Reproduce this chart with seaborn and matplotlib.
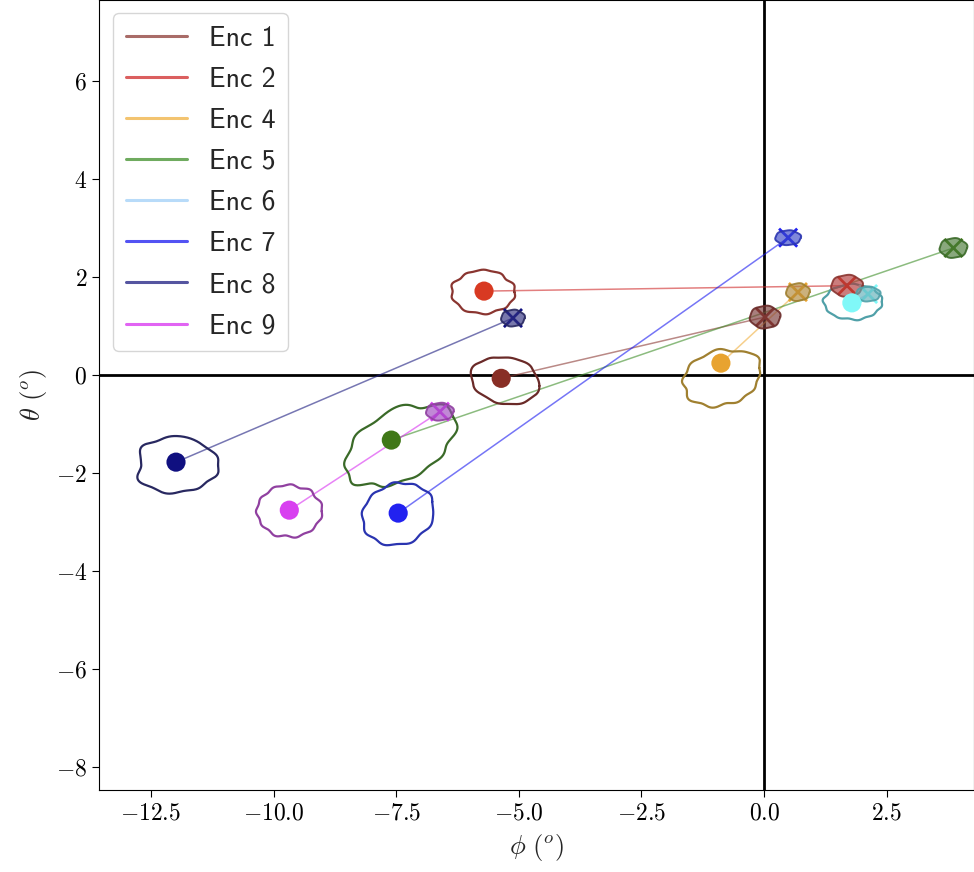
import numpy as np
import pandas as pd
import matplotlib
matplotlib.use("Agg")
import matplotlib.pyplot as plt
import seaborn as sns
from matplotlib.lines import Line2D
from matplotlib.ticker import FuncFormatter, MultipleLocator

# ---------------- data ----------------
labels = ["Enc 1", "Enc 2", "Enc 4", "Enc 5", "Enc 6", "Enc 7", "Enc 8", "Enc 9"]
src_phi = [-5.36, -5.71, -0.88, -7.60, 1.79, -7.46, -11.99, -9.68]
src_theta = [-0.07, 1.71, 0.24, -1.33, 1.47, -2.82, -1.78, -2.76]
dst_phi = [0.02, 1.69, 0.69, 3.86, 2.12, 0.49, -5.12, -6.61]
dst_theta = [1.18, 1.82, 1.69, 2.59, 1.65, 2.80, 1.16, -0.75]

line_colors = ["#8c3b36", "#d02a2a", "#f0b040", "#3f8f2a", "#a0d0f8", "#1a1af0", "#1c1c80", "#d830f0"]
dot_colors = ["#882e25", "#d83a22", "#e8a330", "#407818", "#80f8f8", "#2222f0", "#101080", "#d840f0"]
cont_colors = ["#6a2a28", "#8a3530", "#a08030", "#3a6a28", "#50a0a8", "#2a34b0", "#282860", "#9040a0"]
blob_fill = ["#7a3a38", "#b03838", "#b08838", "#4a7a38", "#60b0b8", "#3a48c8", "#303080", "#a048c0"]

# big contour: centre, semi-axes, rotation, radial multipliers (24 angles)
big_cx = [-5.28, -5.73, -0.86, -7.42, 1.81, -7.46, -12.01, -9.68]
big_cy = [-0.10, 1.69, -0.06, -1.43, 1.49, -2.84, -1.84, -2.78]
big_a = [0.71, 0.64, 0.79, 1.20, 0.59, 0.74, 0.86, 0.66]
big_b = [0.46, 0.44, 0.56, 0.70, 0.36, 0.62, 0.57, 0.53]
big_rot = [-10, 0, 15, 28, 0, 20, 0, 0]
big_r = [
    [1.00, 0.97, 0.95, 1.00, 1.04, 1.01, 1.00, 0.96, 0.99, 0.97, 1.00, 1.03, 1.00, 0.96, 1.00, 1.03, 1.00, 1.05, 1.08, 1.05, 1.08, 1.04, 1.02, 1.03],
    [1.00, 1.04, 0.98, 0.96, 1.03, 1.00, 1.04, 0.99, 1.02, 0.96, 1.01, 1.04, 0.97, 1.03, 0.98, 1.00, 1.04, 0.97, 1.02, 1.00, 0.96, 1.03, 0.99, 1.04],
    [1.00, 1.10, 1.08, 1.02, 0.94, 1.00, 1.04, 0.97, 1.01, 1.04, 0.99, 1.05, 0.97, 1.02, 1.06, 0.98, 1.04, 1.00, 0.95, 1.03, 0.97, 1.02, 0.96, 1.00],
    [1.02, 1.06, 1.04, 0.90, 0.98, 1.06, 1.00, 0.96, 1.04, 0.99, 0.97, 1.03, 1.00, 1.07, 1.02, 0.96, 1.04, 0.98, 1.03, 0.97, 1.02, 0.95, 1.00, 1.05],
    [1.00, 1.04, 0.98, 1.02, 1.00, 0.97, 1.03, 1.00, 0.98, 1.03, 0.97, 1.01, 1.03, 0.97, 1.02, 0.99, 1.03, 0.97, 1.00, 1.04, 0.98, 1.02, 0.97, 1.03],
    [1.00, 1.05, 0.99, 1.02, 0.97, 1.03, 1.00, 0.97, 1.02, 0.98, 1.03, 0.99, 1.00, 1.04, 0.97, 1.02, 1.00, 0.97, 1.03, 0.99, 0.96, 1.03, 1.00, 0.98],
    [1.02, 1.05, 1.00, 0.97, 1.00, 1.03, 1.04, 1.00, 0.96, 1.03, 0.96, 0.84, 0.80, 0.88, 1.02, 1.00, 0.97, 1.03, 1.00, 0.95, 1.00, 0.97, 1.00, 1.06],
    [1.00, 1.04, 0.97, 1.02, 1.00, 0.96, 1.03, 0.99, 1.03, 0.96, 1.02, 0.98, 1.03, 0.97, 1.01, 0.97, 1.03, 0.99, 0.97, 1.03, 0.98, 1.02, 0.97, 1.03],
]
# small filled blob: semi-axes and radial multipliers
sm_a = [0.31, 0.32, 0.24, 0.28, 0.25, 0.26, 0.24, 0.28]
sm_b = [0.23, 0.22, 0.18, 0.20, 0.15, 0.15, 0.17, 0.18]
sm_r = [1.00, 1.04, 0.97, 1.02, 1.00, 0.97, 1.03, 0.98, 1.00, 1.02, 0.97, 1.03, 1.00, 0.98, 1.03, 0.97]


def blob(cx, cy, a, b, rot, mult, n=300):
    m = np.asarray(mult, dtype=float)
    spec = np.fft.rfft(m)
    k = len(m)
    full = np.zeros(n // 2 + 1, dtype=complex)
    full[: len(spec)] = spec
    if k % 2 == 0:
        full[len(spec) - 1] *= 0.5
    r = np.fft.irfft(full, n) * n / k
    t = np.linspace(0, 2 * np.pi, n, endpoint=False)
    x = a * r * np.cos(t)
    y = b * r * np.sin(t)
    th = np.deg2rad(rot)
    xr = cx + x * np.cos(th) - y * np.sin(th)
    yr = cy + x * np.sin(th) + y * np.cos(th)
    return np.append(xr, xr[0]), np.append(yr, yr[0])


# ---------------- style ----------------
sns.set_style("ticks")
plt.rcParams.update({
    "font.family": ["DejaVu Serif"],
    "mathtext.fontset": "cm",
    "axes.edgecolor": "black",
    "xtick.color": "black",
    "ytick.color": "black",
    "xtick.direction": "out",
    "ytick.direction": "out",
    "xtick.major.size": 5,
    "ytick.major.size": 5,
})

fig = plt.figure(figsize=(9.74, 8.72), dpi=100)
ax = fig.add_axes([99 / 974, 82 / 872, 1 - 99 / 974, 1 - 82 / 872])

ax.axhline(0, color="black", lw=2, zorder=1)
ax.axvline(0, color="black", lw=2, zorder=1)

# connecting lines
for i in range(len(labels)):
    seg = pd.DataFrame({"phi": [src_phi[i], dst_phi[i]], "theta": [src_theta[i], dst_theta[i]]})
    sns.lineplot(data=seg, x="phi", y="theta", sort=False, color=line_colors[i], alpha=0.6,
                 lw=1.1, ax=ax, zorder=2)

# contours
for i in range(len(labels)):
    xs, ys = blob(big_cx[i], big_cy[i], big_a[i], big_b[i], big_rot[i], big_r[i])
    ax.plot(xs, ys, color=cont_colors[i], lw=1.6, zorder=3)

df_dst = pd.DataFrame({"phi": dst_phi, "theta": dst_theta, "enc": labels})
sns.scatterplot(data=df_dst, x="phi", y="theta", hue="enc", palette=dot_colors, marker="x",
                s=170, linewidth=2.0, legend=False, ax=ax, zorder=4)

for i in range(len(labels)):
    xs, ys = blob(dst_phi[i], dst_theta[i], sm_a[i], sm_b[i], 0, sm_r)
    ax.fill(xs, ys, facecolor=blob_fill[i], alpha=0.65, edgecolor="none", zorder=5)
    ax.plot(xs, ys, color=cont_colors[i], lw=1.4, alpha=0.9, zorder=5)

df_src = pd.DataFrame({"phi": src_phi, "theta": src_theta, "enc": labels})
sns.scatterplot(data=df_src, x="phi", y="theta", hue="enc", palette=dot_colors, s=190,
                linewidth=0, legend=False, ax=ax, zorder=6)

ax.set_xlim(-13.56, 4.28)
ax.set_ylim(-8.47, 7.65)
ax.xaxis.set_major_locator(MultipleLocator(2.5))
ax.yaxis.set_major_locator(MultipleLocator(2))
ax.xaxis.set_major_formatter(FuncFormatter(lambda v, p: f"${v:.1f}$"))
ax.yaxis.set_major_formatter(FuncFormatter(lambda v, p: f"${v:.0f}$"))
ax.tick_params(labelsize=17)
ax.set_xlabel(r"$\phi\ (^o)$", fontsize=19, labelpad=5)
ax.set_ylabel(r"$\theta\ (^o)$", fontsize=19, labelpad=5)

handles = [Line2D([0], [0], color=c, lw=2.2, alpha=0.75) for c in line_colors]
leg = ax.legend(handles, labels, loc="upper left", bbox_to_anchor=(14 / 875, 1 - 13 / 790),
                borderaxespad=0, prop={"family": "cmss10", "size": 20}, frameon=True,
                fancybox=True, handlelength=2.2, handletextpad=0.8, borderpad=0.45,
                labelspacing=0.58)
leg.get_frame().set_edgecolor("#cccccc")

fig.savefig("out.png", dpi=100)
